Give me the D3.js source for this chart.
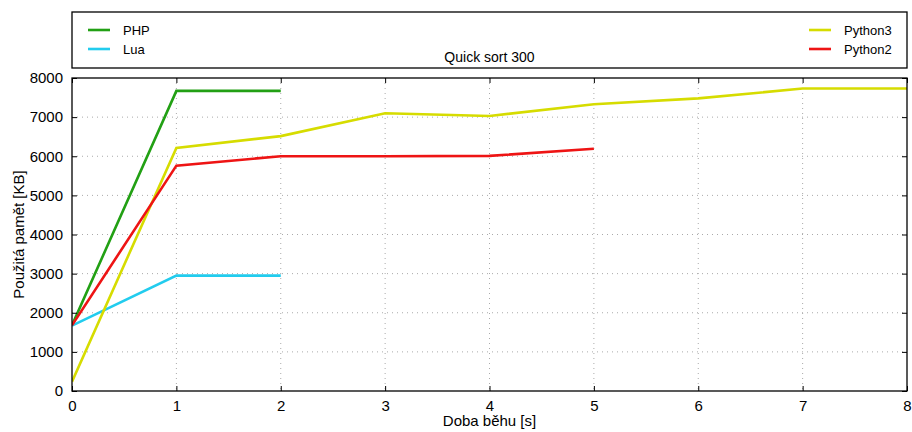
<!DOCTYPE html>
<html><head><meta charset="utf-8">
<script src="https://cdn.jsdelivr.net/npm/d3@7"></script>
<style>body{margin:0;background:#fff}text{font-family:"Liberation Sans",Arial,sans-serif}</style>
</head><body><svg id="c" width="912" height="432"></svg>
<script>
const xTicks = [0,1,2,3,4,5,6,7,8];
const yTicks = [0,1000,2000,3000,4000,5000,6000,7000,8000];
const phpX = [0,1,2];
const phpY = [1680,7670,7670];
const luaX = [0,1,2];
const luaY = [1670,2950,2950];
const py3X = [0,1,2,3,4,5,6,7,8];
const py3Y = [240,6210,6515,7100,7030,7330,7480,7730,7730];
const py2X = [0,1,2,3,4,5];
const py2Y = [1680,5760,6000,6000,6010,6190];
const seriesNames = ["PHP","Lua","Python3","Python2"];
const colors = {PHP:"#22a014", Lua:"#22ccee", Python3:"#d6dc00", Python2:"#ee1414"};

const svg = d3.select("#c");
const L=72,R=907,T=78,B=391;
const x = d3.scaleLinear().domain([0,8]).range([L,R]);
const y = d3.scaleLinear().domain([0,8000]).range([B,T]);

// grid
const g = svg.append("g");
g.selectAll(".gx").data(xTicks.slice(1,-1)).enter().append("line")
 .attr("x1",d=>x(d)).attr("x2",d=>x(d)).attr("y1",T).attr("y2",B)
 .attr("stroke","#aaa").attr("stroke-width",1).attr("stroke-dasharray","1,4");
g.selectAll(".gy").data(yTicks.slice(1,-1)).enter().append("line")
 .attr("y1",d=>y(d)).attr("y2",d=>y(d)).attr("x1",L).attr("x2",R)
 .attr("stroke","#aaa").attr("stroke-width",1).attr("stroke-dasharray","1,4");

// lines
const line = d3.line().x(d=>x(d[0])).y(d=>y(d[1]));
const data = {
  PHP: phpX.map((v,i)=>[v,phpY[i]]),
  Lua: luaX.map((v,i)=>[v,luaY[i]]),
  Python3: py3X.map((v,i)=>[v,py3Y[i]]),
  Python2: py2X.map((v,i)=>[v,py2Y[i]])
};
const clip = svg.append("clipPath").attr("id","cp").append("rect").attr("x",L).attr("y",T).attr("width",R-L).attr("height",B-T);
seriesNames.forEach(k=>{
  svg.append("path").attr("d",line(data[k])).attr("fill","none")
   .attr("stroke",colors[k]).attr("stroke-width",2.6).attr("clip-path","url(#cp)");
});

// axes
const ax = svg.append("g");
const xb = d3.axisBottom(x).tickValues(xTicks).tickSize(-5).tickPadding(9).tickFormat(d3.format("d"));
const xt = d3.axisTop(x).tickValues(xTicks).tickSize(-5).tickFormat("");
const yl = d3.axisLeft(y).tickValues(yTicks).tickSize(-5).tickPadding(9).tickFormat(d3.format("d"));
const yr = d3.axisRight(y).tickValues(yTicks).tickSize(-5).tickFormat("");
function style(s){s.select(".domain").remove();s.selectAll("line").attr("stroke","#000").attr("stroke-width",1);s.selectAll("text").attr("font-size",15).attr("fill","#000").style("font-family","'Liberation Sans',Arial,sans-serif");}
ax.append("g").attr("transform",`translate(0,${B})`).call(xb).call(style);
ax.append("g").attr("transform",`translate(0,${T})`).call(xt).call(style);
ax.append("g").attr("transform",`translate(${L},0)`).call(yl).call(style);
ax.append("g").attr("transform",`translate(${R},0)`).call(yr).call(style);
svg.append("rect").attr("x",L).attr("y",T).attr("width",R-L).attr("height",B-T).attr("fill","none").attr("stroke","#000").attr("stroke-width",1.3);

svg.append("text").attr("x",(L+R)/2).attr("y",426).attr("text-anchor","middle").attr("font-size",15).text("Doba běhu [s]");
svg.append("text").attr("transform",`translate(24,${(T+B)/2}) rotate(-90)`).attr("text-anchor","middle").attr("font-size",15).text("Použitá pamět [KB]");

// legend box
svg.append("rect").attr("x",L).attr("y",12).attr("width",R-L).attr("height",56).attr("fill","#fff").attr("stroke","#000").attr("stroke-width",1.3);
svg.append("text").attr("x",(L+R)/2).attr("y",62).attr("text-anchor","middle").attr("font-size",14).text("Quick sort 300");
const leg = [
  {n:"PHP",lx:88,ly:30},{n:"Lua",lx:88,ly:49},
  {n:"Python3",lx:809,ly:30},{n:"Python2",lx:809,ly:49}
];
leg.forEach(o=>{
  svg.append("line").attr("x1",o.lx).attr("x2",o.lx+22).attr("y1",o.ly).attr("y2",o.ly).attr("stroke",colors[o.n]).attr("stroke-width",2.6);
  svg.append("text").attr("x",o.lx+35).attr("y",o.ly+5).attr("font-size",13).text(o.n);
});
</script></body></html>
